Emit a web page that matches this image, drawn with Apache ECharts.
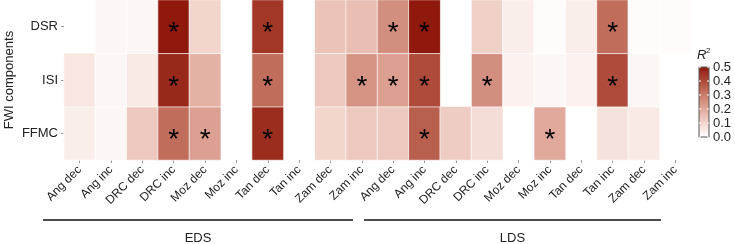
<!DOCTYPE html>
<html>
<head>
<meta charset="utf-8">
<script src="https://cdn.jsdelivr.net/npm/echarts@6/dist/echarts.min.js"></script>
<style>
  html, body { margin: 0; padding: 0; background: #fff; }
  #chart { width: 735px; height: 244px; }
</style>
</head>
<body>
<div id="chart"></div>
<script>
// R² heatmap: FWI components x (season, site, trend)
const chart = echarts.init(document.getElementById('chart'));

const sites = ['Ang dec', 'Ang inc', 'DRC dec', 'DRC inc', 'Moz dec', 'Moz inc', 'Tan dec', 'Tan inc', 'Zam dec', 'Zam inc'];
const groups = ['EDS', 'LDS'];
const columns = sites.concat(sites);
const components = ['FFMC', 'ISI', 'DSR']; // bottom to top

// null = no cell drawn
const dsrValues = [null, 0.02, 0.02, 0.5, 0.1, null, 0.44, null, 0.14, 0.15,
  0.26, 0.5, null, 0.11, 0.04, 0.01, 0.04, 0.33, 0.01, 0.01];
const isiValues = [0.06, 0.02, 0.05, 0.47, 0.18, null, 0.33, null, 0.13, 0.25,
  0.22, 0.4, null, 0.26, 0.03, 0.02, 0.03, 0.4, 0.02, null];
const ffmcValues = [0.04, 0.02, 0.13, 0.33, 0.22, null, 0.46, null, 0.1, 0.13,
  0.13, 0.36, 0.12, 0.08, null, 0.2, null, 0.07, 0.05, null];

// 1 = significant (asterisk)
const dsrSig = [0, 0, 0, 1, 0, 0, 1, 0, 0, 0, 1, 1, 0, 0, 0, 0, 0, 1, 0, 0];
const isiSig = [0, 0, 0, 1, 0, 0, 1, 0, 0, 1, 1, 1, 0, 1, 0, 0, 0, 1, 0, 0];
const ffmcSig = [0, 0, 0, 1, 1, 0, 1, 0, 0, 0, 0, 1, 0, 0, 0, 1, 0, 0, 0, 0];

const legendTicks = [0.0, 0.1, 0.2, 0.3, 0.4, 0.5];
const rampColors = ['#ffffff', '#f2d5cd', '#e0a99b', '#c97c6b', '#ae4b3a', '#8f190c'];

const rows = [ffmcValues, isiValues, dsrValues];
const sigs = [ffmcSig, isiSig, dsrSig];
const cells = [];
rows.forEach((vals, r) => {
  vals.forEach((v, c) => {
    if (v !== null) cells.push([c, r, v, sigs[r][c]]);
  });
});

const font = 'Liberation Sans, Arial, sans-serif';
const barTop = 67, barH = 70, barLeft = 699, barW = 10;

const graphic = [
  { type: 'rect', shape: { x: barLeft, y: barTop, width: barW, height: barH },
    style: { fill: 'none', stroke: '#555', lineWidth: 1 }, z: 100 },
  { type: 'text', left: 697, top: 49,
    style: { text: 'R', font: 'italic 13px ' + font, fill: '#222' } },
  { type: 'text', left: 706, top: 47,
    style: { text: '2', font: '8px ' + font, fill: '#222' } }
];
legendTicks.forEach(t => {
  const y = barTop + barH * (1 - t / 0.5);
  graphic.push({ type: 'text', x: 713, y: y,
    style: { text: t.toFixed(1), font: '13px ' + font, fill: '#222', textVerticalAlign: 'middle' } });
  graphic.push({ type: 'line', shape: { x1: barLeft, y1: y, x2: barLeft + 2, y2: y },
    style: { stroke: '#fff', lineWidth: 1 }, z: 101 });
  graphic.push({ type: 'line', shape: { x1: barLeft + barW - 2, y1: y, x2: barLeft + barW, y2: y },
    style: { stroke: '#fff', lineWidth: 1 }, z: 101 });
});
// group brackets under the labels
const brackets = [[43, 353], [364, 661]];
brackets.forEach((b, i) => {
  graphic.push({ type: 'line', shape: { x1: b[0], y1: 220, x2: b[1], y2: 220 },
    style: { stroke: '#111', lineWidth: 1.5 } });
  graphic.push({ type: 'text', x: (b[0] + b[1]) / 2, y: 238,
    style: { text: groups[i], font: '13px ' + font, fill: '#222', textAlign: 'center', textVerticalAlign: 'middle' } });
});

const option = {
  animation: false,
  textStyle: { fontFamily: font },
  grid: { left: 64, right: 44, top: 0, bottom: 84, containLabel: false, outerBoundsMode: 'none' },
  xAxis: {
    type: 'category',
    data: columns,
    axisLine: { show: false },
    axisTick: { show: true, alignWithLabel: true, length: 3, lineStyle: { color: '#999' } },
    axisLabel: { rotate: 45, fontSize: 12, color: '#222', margin: 8, interval: 0 },
    splitArea: { show: false }
  },
  yAxis: {
    type: 'category',
    data: components,
    name: 'FWI components',
    nameLocation: 'middle',
    nameGap: 48,
    nameMoveOverlap: false,
    nameTextStyle: { fontSize: 13, color: '#222' },
    axisLine: { show: false },
    axisTick: { show: true, alignWithLabel: true, length: 3, lineStyle: { color: '#999' } },
    axisLabel: { fontSize: 13, color: '#222', margin: 6 }
  },
  visualMap: {
    type: 'continuous',
    min: 0,
    max: 0.5,
    dimension: 2,
    calculable: false,
    showLabel: false,
    text: null,
    padding: 0,
    itemWidth: barW,
    itemHeight: barH,
    left: barLeft,
    top: barTop,
    inRange: { color: rampColors }
  },
  graphic: graphic,
  series: [{
    type: 'heatmap',
    data: cells,
    itemStyle: { borderColor: 'rgba(255,255,255,0.7)', borderWidth: 1 },
    emphasis: { disabled: true },
    label: {
      show: true,
      color: '#000',
      fontSize: 28,
      offset: [0, 7],
      formatter: p => (p.data[3] ? '*' : '')
    }
  }]
};
chart.setOption(option);

window.onresize = function() {
  chart.resize();
};
</script>
</body>
</html>
